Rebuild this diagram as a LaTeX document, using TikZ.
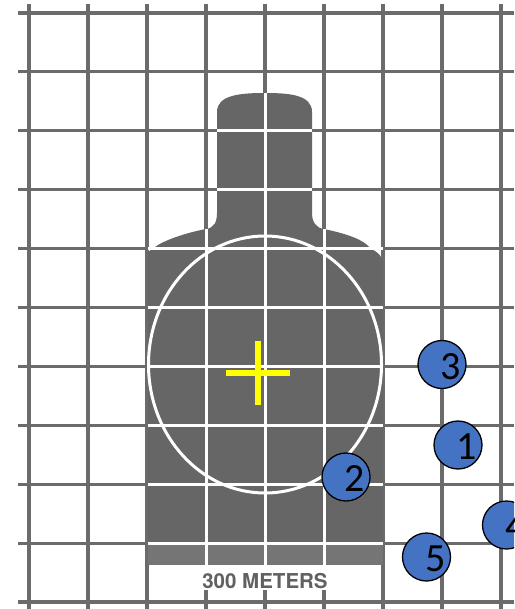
\documentclass[tikz,border=0pt]{standalone}
\usepackage{fontspec}
\setmainfont{Carlito}
\newfontfamily\rangefont{TeX Gyre Heros}
\usepackage{tikz}
\usetikzlibrary{positioning}
\definecolor{gridgray}{rgb}{0.42,0.42,0.42}
\definecolor{targetgray}{rgb}{0.40,0.40,0.40}
\definecolor{bandgray}{rgb}{0.46,0.46,0.46}
\definecolor{hitblue}{rgb}{0.27,0.45,0.77}
\definecolor{aimyellow}{rgb}{1.00,1.00,0.00}
\tikzset{
  gridline/.style={gridgray, line width=3.2pt},
  whiteline/.style={white, line width=3pt},
  shot/.style={circle, draw=black, line width=1.3pt, fill=hitblue,
    minimum size=48pt, inner sep=0pt},
  shotnum/.style={font=\fontsize{40}{40}\selectfont, text=black, inner sep=0pt,
    xshift=9pt, yshift=-2pt}
}

\begin{document}
\begin{tikzpicture}[x=1pt, y=-1pt]
        \clip (0,0) rectangle (514,609);
        \fill[white] (0,0) rectangle (514,609);

        \foreach \i in {0,...,8}
          \draw[gridline] ({29+59*\i},4) -- ({29+59*\i},609);
        \foreach \j in {0,...,10}
          \draw[gridline] (18,{13+58.9*\j}) -- (514,{13+58.9*\j});

        \fill[targetgray] (217,213) -- (217,112)
          .. controls (217,95) and (240,93) .. (265,93)
          .. controls (290,93) and (312,95) .. (312,112) -- (312,213)
          .. controls (312,222) and (316,228) .. (324,229)
          .. controls (348,234) and (364,240) .. (370,248)
          .. controls (377,252) and (383,256) .. (383,263) -- (383,565)
          -- (148,565) -- (148,252) -- (158,245)
          .. controls (170,238) and (190,232) .. (206,229)
          .. controls (214,228) and (217,222) .. (217,213) -- cycle;
        \fill[bandgray] (148,545) rectangle (383,565);

        \draw[whiteline] (217,130.8) -- (312,130.8);
        \draw[whiteline] (217,189.7) -- (312,189.7);
        \draw[whiteline] (265,93) -- (265,565);
        \draw[whiteline] (206,229) -- (206,565);
        \draw[whiteline] (324,229) -- (324,565);
        \foreach \j in {4,...,9}
          \draw[whiteline] (148,{13+58.9*\j}) -- (383,{13+58.9*\j});
        \draw[whiteline] (265,364.5) ellipse [x radius=116.5, y radius=128.5];

        \fill[white] (149.6,565) rectangle (381.4,590);
        \node[text=black!62, font=\rangefont\bfseries\fontsize{20.5}{20.5}\selectfont,
          inner sep=0pt] (range) at (265,581) {300 METERS};

        \coordinate (aim) at (258,373);
        \draw[aimyellow, line width=6pt]
          ([xshift=-32pt]aim) -- ([xshift=32pt]aim)
          ([yshift=32pt]aim) -- ([yshift=-32pt]aim);

        \node[shot, label={[shotnum]center:1}] (shot1) at (458,445) {};
        \node[shot, label={[shotnum]center:2}] (shot2) at (346,477) {};
        \node[shot, label={[shotnum]center:3}] (shot3) at (442,364.5) {};
        \node[shot, label={[shotnum]center:4}] (shot4) at (506.5,525) {};
        \node[shot, label={[shotnum]center:5}] (shot5) at (426.5,557) {};
      \end{tikzpicture}
\end{document}
